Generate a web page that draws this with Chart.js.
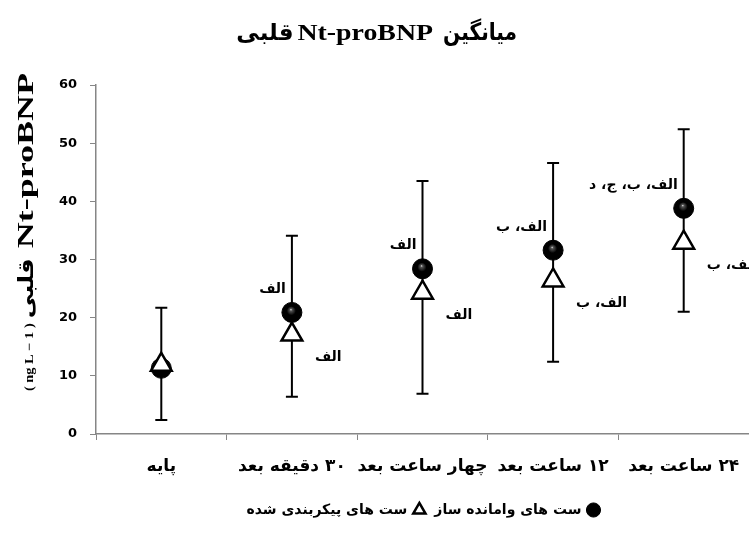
<!DOCTYPE html>
<html>
<head>
<meta charset="utf-8">
<script src="https://cdn.jsdelivr.net/npm/chart.js@4.4.0/dist/chart.umd.min.js"></script>
<style>
  html, body { margin: 0; padding: 0; background: #fff; }
  #wrap { width: 749px; height: 536px; }
</style>
</head>
<body>
<div id="wrap"><canvas id="chart" width="749" height="536"></canvas></div>
<script>
const categories = ["پایه", "۳۰ دقیقه بعد", "چهار ساعت بعد", "۱۲ ساعت بعد", "۲۴ ساعت بعد"];
const seriesNames = ["ست های وامانده ساز", "ست های پیکربندی شده"];
const circleMeans = [11.3, 20.9, 28.4, 31.6, 38.8];
const triangleMeans = [11.9, 17.1, 24.3, 26.4, 32.9];
const errorHigh = [21.7, 34.1, 43.5, 46.6, 52.4];
const errorLow = [2.4, 6.4, 6.9, 12.4, 21.0];
const circleLabels = ["", "الف", "الف", "الف، ب", "الف، ب، ج، د"];
const triangleLabels = ["", "الف", "الف", "الف، ب", "الف، ب"];
const yTicks = [0, 10, 20, 30, 40, 50, 60];
const titleParts = ["میانگین", "Nt-proBNP", "قلبی"];
const yTitleParts = ["Nt-proBNP", "قلبی", "( ng L − 1 )"];

const axisGray = "#868686";
const persianFont = "'DejaVu Sans'";
const serifFont = "'Liberation Serif'";

function ballFill(context) {
  const chart = context.chart;
  const xs = chart.scales.x;
  const ys = chart.scales.y;
  if (!xs || !ys || context.dataIndex === undefined) return "#000";
  const px = xs.getPixelForValue(context.dataIndex);
  const py = ys.getPixelForValue(context.raw);
  if (!isFinite(px) || !isFinite(py)) return "#000";
  const g = chart.ctx.createRadialGradient(px - 1, py - 3, 0, px, py, 10);
  g.addColorStop(0, "#e8e8e8");
  g.addColorStop(0.12, "#555");
  g.addColorStop(0.45, "#000");
  g.addColorStop(1, "#000");
  return g;
}

// draws text pieces right to left, each with its own font and stretch
function drawPieces(ctx, pieces) {
  let cursor = 0;
  pieces.forEach((p) => {
    ctx.save();
    ctx.font = p.font;
    ctx.scale(p.sx, 1);
    ctx.textAlign = "right";
    ctx.fillText(p.text, cursor / p.sx, 0);
    const w = ctx.measureText(p.text).width * p.sx;
    ctx.restore();
    cursor -= w + p.gap;
  });
}

const directionPlugin = {
  id: "rtlText",
  beforeDraw(chart) {
    chart.ctx.direction = "rtl";
  },
};

const titlePlugin = {
  id: "farsiTitle",
  afterDraw(chart) {
    const ctx = chart.ctx;
    ctx.save();
    ctx.direction = "ltr";
    ctx.fillStyle = "#000";
    ctx.textBaseline = "alphabetic";
    ctx.translate(517, 40);
    drawPieces(ctx, [
      { text: titleParts[0], font: "bold 24px " + persianFont, sx: 0.84, gap: 10 },
      { text: titleParts[1], font: "bold 24px " + serifFont, sx: 1.16, gap: 4 },
      { text: titleParts[2], font: "bold 23px " + persianFont, sx: 1, gap: 0 },
    ]);
    ctx.restore();
  },
};

const yTitlePlugin = {
  id: "yTitle",
  afterDraw(chart) {
    const ctx = chart.ctx;
    ctx.save();
    ctx.direction = "ltr";
    ctx.translate(33, 73);
    ctx.rotate(-Math.PI / 2);
    ctx.fillStyle = "#000";
    ctx.textBaseline = "alphabetic";
    drawPieces(ctx, [
      { text: yTitleParts[0], font: "bold 24px " + serifFont, sx: 1.5, gap: 10 },
      { text: yTitleParts[1], font: "bold 21px " + persianFont, sx: 1.15, gap: 5 },
      { text: yTitleParts[2], font: "bold 12px " + serifFont, sx: 1.2, gap: 0 },
    ]);
    ctx.restore();
  },
};

const errorBarPlugin = {
  id: "errorBars",
  beforeDatasetsDraw(chart) {
    const ctx = chart.ctx;
    const xs = chart.scales.x;
    const ys = chart.scales.y;
    ctx.save();
    ctx.strokeStyle = "#000";
    ctx.lineWidth = 2;
    for (let i = 0; i < categories.length; i++) {
      const px = xs.getPixelForValue(i);
      const top = ys.getPixelForValue(errorHigh[i]);
      const bot = ys.getPixelForValue(errorLow[i]);
      ctx.beginPath();
      ctx.moveTo(px, top);
      ctx.lineTo(px, bot);
      ctx.moveTo(px - 6, top);
      ctx.lineTo(px + 6, top);
      ctx.moveTo(px - 6, bot);
      ctx.lineTo(px + 6, bot);
      ctx.stroke();
    }
    ctx.restore();
  },
};

const notesPlugin = {
  id: "pointNotes",
  afterDatasetsDraw(chart) {
    const ctx = chart.ctx;
    const circles = chart.getDatasetMeta(0).data;
    const tris = chart.getDatasetMeta(1).data;
    ctx.save();
    ctx.direction = "rtl";
    ctx.font = "bold 14px " + persianFont;
    ctx.fillStyle = "#000";
    ctx.textBaseline = "middle";
    circleLabels.forEach((t, i) => {
      if (!t) return;
      ctx.textAlign = "right";
      ctx.fillText(t, circles[i].x - 6, circles[i].y - 23);
    });
    triangleLabels.forEach((t, i) => {
      if (!t) return;
      ctx.textAlign = "left";
      ctx.fillText(t, tris[i].x + 23, tris[i].y + 23);
    });
    ctx.restore();
  },
};

new Chart(document.getElementById("chart"), {
  type: "line",
  data: {
    labels: categories,
    datasets: [
      {
        label: seriesNames[0],
        data: circleMeans,
        showLine: false,
        pointStyle: "circle",
        pointRadius: 10,
        pointHoverRadius: 10,
        pointBackgroundColor: ballFill,
        pointBorderColor: "#000",
        pointBorderWidth: 1,
        backgroundColor: "#000",
        borderColor: "#000",
        order: 1,
      },
      {
        label: seriesNames[1],
        data: triangleMeans,
        showLine: false,
        pointStyle: "triangle",
        pointRadius: 12,
        pointHoverRadius: 12,
        pointBackgroundColor: "#fff",
        pointBorderColor: "#000",
        pointBorderWidth: 2.5,
        backgroundColor: "#fff",
        borderColor: "#000",
        borderWidth: 2,
        order: 0,
      },
    ],
  },
  options: {
    responsive: false,
    animation: false,
    devicePixelRatio: 1,
    layout: {
      autoPadding: false,
      padding: { left: 0, right: 0, top: 85, bottom: 9 },
    },
    plugins: {
      title: { display: false },
      legend: {
        position: "bottom",
        fullSize: false,
        reverse: true,
        rtl: true,
        textDirection: "rtl",
        labels: {
          usePointStyle: true,
          boxWidth: 10,
          boxHeight: 10,
          padding: 10,
          color: "#000",
          font: { family: persianFont, size: 14, weight: "bold" },
        },
      },
      tooltip: { enabled: false },
    },
    scales: {
      x: {
        type: "category",
        offset: true,
        afterFit(scale) {
          scale.paddingLeft = 0;
          scale.paddingRight = 0;
        },
        grid: {
          offset: true,
          drawOnChartArea: false,
          tickLength: 6,
          color: axisGray,
          tickColor: axisGray,
        },
        border: { color: axisGray, width: 1.5 },
        ticks: {
          padding: 18,
          autoSkip: false,
          maxRotation: 0,
          color: "#000",
          font: { family: persianFont, size: 17, weight: "bold", lineHeight: 1 },
        },
      },
      y: {
        min: yTicks[0],
        max: yTicks[yTicks.length - 1],
        afterFit(scale) {
          scale.width = 96;
        },
        afterBuildTicks(scale) {
          scale.ticks = yTicks.map((v) => ({ value: v }));
        },
        grid: {
          drawOnChartArea: false,
          tickLength: 6,
          color: axisGray,
          tickColor: axisGray,
        },
        border: { color: axisGray, width: 1.5 },
        ticks: {
          padding: 13,
          color: "#000",
          font: { family: persianFont, size: 13, weight: "bold" },
        },
      },
    },
  },
  plugins: [directionPlugin, errorBarPlugin, notesPlugin, titlePlugin, yTitlePlugin],
});
</script>
</body>
</html>
